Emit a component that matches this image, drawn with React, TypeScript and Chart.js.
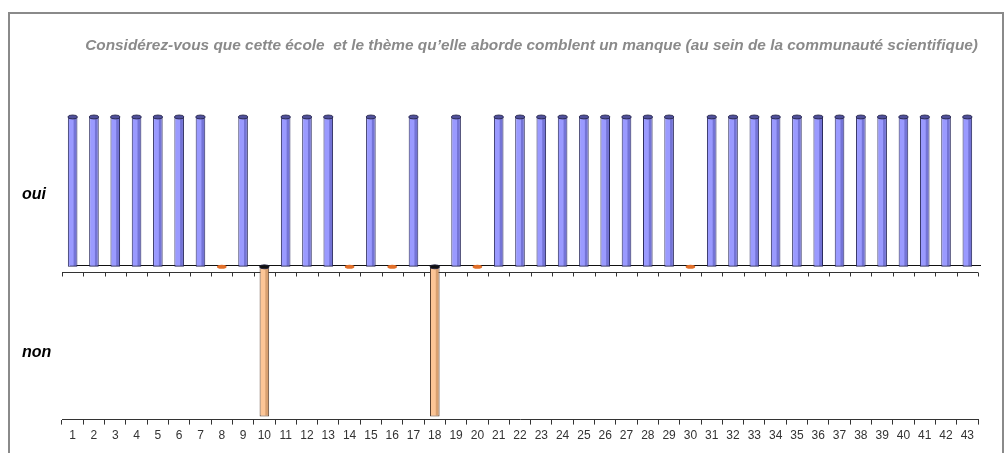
import React, { useEffect, useRef } from "react";
import { Chart, registerables } from "chart.js";

Chart.register(...registerables);

const titleText =
  "Considérez-vous que cette école  et le thème qu\u2019elle aborde comblent un manque (au sein de la communauté scientifique)";

const categories = [
  "1", "2", "3", "4", "5", "6", "7", "8", "9", "10",
  "11", "12", "13", "14", "15", "16", "17", "18", "19", "20",
  "21", "22", "23", "24", "25", "26", "27", "28", "29", "30",
  "31", "32", "33", "34", "35", "36", "37", "38", "39", "40",
  "41", "42", "43",
];

// "oui" answers (1) per respondent, null where not answered oui
const ouiValues = [
  1, 1, 1, 1, 1, 1, 1, null, 1, null,
  1, 1, 1, null, 1, null, 1, null, 1, null,
  1, 1, 1, 1, 1, 1, 1, 1, 1, null,
  1, 1, 1, 1, 1, 1, 1, 1, 1, 1,
  1, 1, 1,
];

// "non" answers (-1), 0 where the series shows an empty marker
const nonValues = [
  null, null, null, null, null, null, null, 0, null, -1,
  null, null, null, 0, null, 0, null, -1, null, 0,
  null, null, null, null, null, null, null, null, null, 0,
  null, null, null, null, null, null, null, null, null, null,
  null, null, null,
];

const yTickValues = [0.485, -0.57];
const yTickLabels = ["oui", "non"];

const BAR_W = 9.5;

function gradientFor(c: any, light: string, dark: string) {
  const chart = c.chart;
  const xs = chart.scales && chart.scales.x;
  if (!xs || c.dataIndex == null || !chart.ctx) return light;
  const x = xs.getPixelForValue(c.dataIndex);
  if (!isFinite(x)) return light;
  const g = chart.ctx.createLinearGradient(x - BAR_W / 2, 0, x + BAR_W / 2, 0);
  g.addColorStop(0, light);
  g.addColorStop(0.55, light);
  g.addColorStop(0.65, dark);
  g.addColorStop(1, dark);
  return g;
}

const decorPlugin = {
  id: "decor",
  beforeDraw(chart: any) {
    const { ctx, width, height } = chart;
    ctx.save();
    ctx.fillStyle = "#ffffff";
    ctx.fillRect(0, 0, width, height);
    ctx.strokeStyle = "#8a8a8a";
    ctx.lineWidth = 2;
    ctx.strokeRect(9, 13, width - 11, height + 20);
    ctx.restore();
  },
  beforeDatasetsDraw(chart: any) {
    const { ctx, chartArea } = chart;
    const y0 = Math.round(chart.scales.y.getPixelForValue(0));
    const xs = chart.scales.x;
    ctx.save();
    ctx.strokeStyle = "#111";
    ctx.lineWidth = 1;
    // back floor line
    ctx.beginPath();
    ctx.moveTo(chartArea.left + 8, y0 - 1.5);
    ctx.lineTo(chartArea.right + 3, y0 - 1.5);
    ctx.stroke();
    // front axis with ticks
    const ya = y0 + 5.5;
    ctx.strokeStyle = "#333";
    ctx.beginPath();
    ctx.moveTo(chartArea.left, ya);
    ctx.lineTo(chartArea.right, ya);
    const n = categories.length;
    for (let i = 0; i <= n; i++) {
      const px = Math.round(xs.getPixelForValue(i - 0.5)) + 0.5;
      ctx.moveTo(px, ya);
      ctx.lineTo(px, ya + 4);
    }
    ctx.stroke();
    ctx.restore();
  },
  afterDatasetsDraw(chart: any) {
    const { ctx } = chart;
    ctx.save();
    chart.data.datasets.forEach((ds: any, di: number) => {
      const meta = chart.getDatasetMeta(di);
      meta.data.forEach((el: any, i: number) => {
        const v = ds.data[i];
        if (v === null || v === undefined) return;
        const p = el.getProps(["x", "y", "base", "width"], true);
        const top = Math.min(p.y, p.base);
        let fill = "#50509a";
        if (di === 1) fill = v === 0 ? "#e2702a" : "#111111";
        ctx.fillStyle = fill;
        ctx.beginPath();
        ctx.ellipse(p.x, top, p.width / 2, 2, 0, 0, Math.PI * 2);
        ctx.fill();
        if (v !== 0) {
          ctx.strokeStyle = "#222244";
          ctx.lineWidth = 0.8;
          ctx.stroke();
        }
      });
    });
    ctx.restore();
  },
};

export default function App() {
  const ref = useRef<HTMLCanvasElement | null>(null);

  useEffect(() => {
    document.body.style.margin = "0";
    if (!ref.current) return;
    const chart = new Chart(ref.current, {
      type: "bar",
      data: {
        labels: categories,
        datasets: [
          {
            label: "oui",
            data: ouiValues as any,
            backgroundColor: (c: any) => gradientFor(c, "#9a9aff", "#7474d6"),
            borderColor: "#2a2a5c",
            borderWidth: 1,
            borderSkipped: false,
            barPercentage: 0.45,
            categoryPercentage: 1,
          },
          {
            label: "non",
            data: nonValues as any,
            backgroundColor: (c: any) => gradientFor(c, "#fcc596", "#d8a070"),
            borderColor: "#5a4030",
            borderWidth: (c: any) => (c.raw === 0 ? 0 : 1),
            borderSkipped: false,
            barPercentage: 0.45,
            categoryPercentage: 1,
          },
        ],
      },
      options: {
        animation: false,
        responsive: false,
        maintainAspectRatio: false,
        events: [],
        layout: { padding: { left: 22, right: 27, top: 0, bottom: 6 } },
        plugins: {
          legend: { display: false },
          tooltip: { enabled: false },
          title: {
            display: true,
            text: titleText,
            align: "end",
            color: "#8a8a8a",
            font: { family: "'Liberation Sans', Arial, sans-serif", size: 15.4, style: "italic", weight: "bold" },
            padding: { top: 37, bottom: 61.5 },
          },
        },
        scales: {
          x: {
            stacked: true,
            offset: true,
            grid: {
              display: true,
              offset: true,
              drawOnChartArea: false,
              drawTicks: true,
              tickLength: 5,
              color: "#333",
            },
            border: { display: true, color: "#333" },
            ticks: {
              color: "#333",
              font: { family: "'Liberation Sans', Arial, sans-serif", size: 12 },
              padding: 4,
              maxRotation: 0,
              autoSkip: false,
            },
          },
          y: {
            stacked: true,
            min: -1.02,
            max: 1,
            grid: { display: false },
            border: { display: false },
            afterBuildTicks: (scale: any) => {
              scale.ticks = yTickValues.map((v) => ({ value: v }));
            },
            afterFit: (scale: any) => {
              scale.width = 40;
            },
            ticks: {
              crossAlign: "far",
              color: "#000",
              font: { family: "'Liberation Sans', Arial, sans-serif", size: 16, style: "italic", weight: "bold" },
              callback: (v: any) => {
                const i = yTickValues.indexOf(Number(v));
                return i >= 0 ? yTickLabels[i] : "";
              },
            },
          },
        },
      },
      plugins: [decorPlugin],
    });
    return () => chart.destroy();
  }, []);

  return (
    <div style={{ position: "fixed", left: 0, top: 0, width: 1005, height: 453 }}>
      <canvas ref={ref} width={1005} height={453} style={{ width: 1005, height: 453, display: "block" }} />
    </div>
  );
}
